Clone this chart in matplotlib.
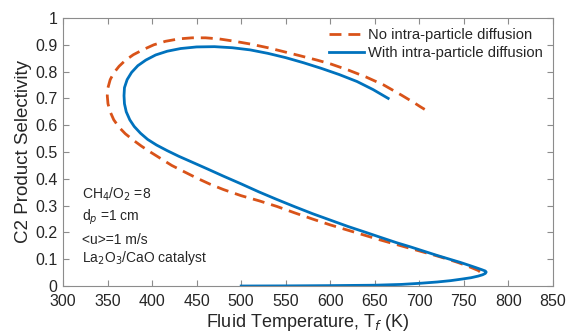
from matplotlib import pyplot as plt

plt.rcParams['font.family'] = ['Liberation Sans', 'DejaVu Sans']

# blue curve: with intra-particle diffusion (T_f in K, selectivity)
T_diff = [500, 550, 600, 650, 680, 700, 720, 735, 748, 758, 766, 771, 774, 775,
          774, 770, 764, 756, 746, 734, 720, 705, 690, 675, 656, 640, 620, 600,
          580, 560, 540, 520, 500, 480, 462, 445, 430, 417, 405, 395, 387, 380,
          375, 371, 369, 368.5, 369, 372, 377, 384, 393, 404, 417, 432, 450,
          470, 490, 510, 530, 550, 570, 590, 610, 630, 648, 665]
S_diff = [0.0, 0.0005, 0.0015, 0.003, 0.006, 0.01, 0.015, 0.02, 0.026, 0.031,
          0.037, 0.042, 0.047, 0.052, 0.056, 0.061, 0.068, 0.077, 0.088, 0.1,
          0.114, 0.13, 0.146, 0.161, 0.182, 0.2, 0.222, 0.246, 0.27, 0.296,
          0.323, 0.351, 0.381, 0.41, 0.437, 0.462, 0.484, 0.505, 0.526, 0.547,
          0.57, 0.595, 0.62, 0.65, 0.68, 0.71, 0.74, 0.77, 0.797, 0.822, 0.843,
          0.862, 0.876, 0.886, 0.892, 0.893, 0.889, 0.881, 0.868, 0.852, 0.833,
          0.812, 0.789, 0.763, 0.733, 0.70]

# orange dashed curve: no intra-particle diffusion
T_nodiff = [768, 766, 761, 753, 744, 732, 718, 703, 688, 672, 656, 640, 620,
            600, 580, 560, 540, 520, 500, 480, 465, 450, 435, 422, 410, 398,
            388, 378.6, 370, 363, 357, 353, 350.5, 349.7, 350.5, 353, 357, 363,
            370, 379, 390, 402, 415, 430, 445, 460, 475, 491, 510, 530, 547,
            565, 585, 600, 620, 640, 660, 680, 695, 701, 706]
S_nodiff = [0.053, 0.058, 0.065, 0.076, 0.087, 0.1, 0.114, 0.128, 0.142, 0.157,
            0.172, 0.188, 0.208, 0.228, 0.25, 0.273, 0.297, 0.318, 0.337, 0.36,
            0.38, 0.403, 0.428, 0.45, 0.475, 0.5, 0.522, 0.545, 0.568, 0.592,
            0.62, 0.65, 0.68, 0.71, 0.74, 0.77, 0.795, 0.82, 0.842, 0.863,
            0.882, 0.9, 0.913, 0.922, 0.926, 0.926, 0.922, 0.914, 0.903, 0.889,
            0.875, 0.86, 0.843, 0.829, 0.806, 0.78, 0.75, 0.712, 0.682, 0.669,
            0.659]

x_ticks = [300, 350, 400, 450, 500, 550, 600, 650, 700, 750, 800, 850]
y_ticks = [0, 0.1, 0.2, 0.3, 0.4, 0.5, 0.6, 0.7, 0.8, 0.9, 1]
y_labels = ['0', '0.1', '0.2', '0.3', '0.4', '0.5', '0.6', '0.7', '0.8', '0.9', '1']

blue = '#0072BD'
orange = '#D95319'
txt = '#262626'
edge = '#8c8c8c'

fig = plt.figure(figsize=(5.7, 3.33), dpi=100)
ax = fig.add_axes([0.1105, 0.1411, 0.8597, 0.8049])

ax.plot(T_nodiff, S_nodiff, color=orange, lw=2, dashes=(4.3, 2.5),
        label='No intra-particle diffusion')
ax.plot(T_diff, S_diff, color=blue, lw=2, label='With intra-particle diffusion')

ax.set_xlim(300, 850)
ax.set_ylim(0, 1)
ax.set_xticks(x_ticks)
ax.set_yticks(y_ticks)
ax.set_yticklabels(y_labels)
ax.tick_params(direction='in', top=True, right=True, length=4, width=0.8,
               color=edge, labelcolor=txt, labelsize=11.5)
ax.tick_params(axis='x', pad=6)
ax.tick_params(axis='y', pad=4)
for s in ax.spines.values():
    s.set_color(edge)
    s.set_linewidth(0.8)

ax.set_xlabel('Fluid Temperature, T$_f$ (K)', fontsize=13, color=txt, labelpad=2)
ax.set_ylabel('C2 Product Selectivity', fontsize=13.5, color=txt, labelpad=2)

ax.legend(loc='upper right', frameon=False, fontsize=10.6, handlelength=2.4,
          handletextpad=0.25, labelspacing=0.25, borderaxespad=0.3,
          labelcolor=txt)

# annotation block
notes = ['CH$_4$/O$_2$ =8', 'd$_p$ =1 cm', '<u>=1 m/s', 'La$_2$O$_3$/CaO catalyst']
note_y = [0.342, 0.256, 0.17, 0.105]
for s, yy in zip(notes, note_y):
    ax.text(321, yy, s, fontsize=10, color=txt, va='center', ha='left')

fig.savefig('out.png', dpi=100)
